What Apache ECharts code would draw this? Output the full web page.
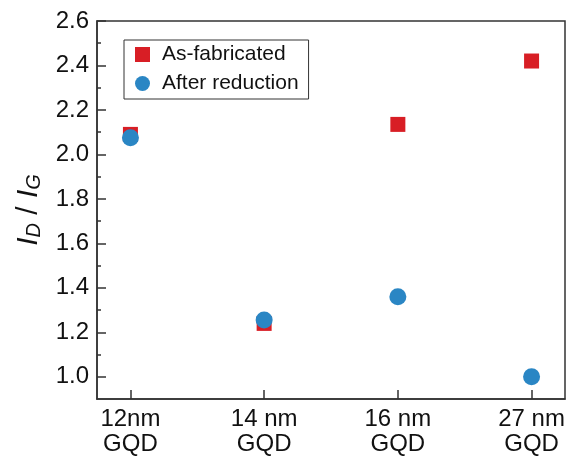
<!DOCTYPE html>
<html>
<head>
<meta charset="utf-8">
<script src="https://cdn.jsdelivr.net/npm/echarts@6/dist/echarts.min.js"></script>
<style>
  html, body { margin: 0; padding: 0; background: #fff; }
  #chart { width: 571px; height: 457px; }
</style>
</head>
<body>
<div id="chart"></div>
<script>
const categories = ['12nm\nGQD', '14 nm\nGQD', '16 nm\nGQD', '27 nm\nGQD'];
const asFabricated = [2.09, 1.24, 2.135, 2.42];
const afterReduction = [2.075, 1.255, 1.36, 1.0];
const yMajorTicks = [1.0, 1.2, 1.4, 1.6, 1.8, 2.0, 2.2, 2.4, 2.6];
const yMinorTicks = [1.1, 1.3, 1.5, 1.7, 1.9, 2.1, 2.3, 2.5];
const xTicks = [0, 1, 2, 3];

const chart = echarts.init(document.getElementById('chart'));

const font = 'Arial, "Liberation Sans", sans-serif';
const axisColor = '#333';

const option = {
  animation: false,
  grid: {
    left: 97, right: 6, top: 21, bottom: 58,
    outerBoundsMode: 'none',
    show: true, borderColor: axisColor, borderWidth: 1.5
  },
  legend: {
    left: 124, top: 40,
    orient: 'vertical',
    borderColor: '#333', borderWidth: 1,
    padding: [4, 10, 5, 11],
    itemWidth: 15, itemHeight: 15, itemGap: 8,
    textStyle: { fontFamily: font, fontSize: 21, color: '#111', padding: [0, 0, 0, 7] },
    data: [
      { name: 'As-fabricated', icon: 'rect' },
      { name: 'After reduction', icon: 'circle' }
    ]
  },
  xAxis: {
    type: 'value',
    min: -0.25, max: 3.25,
    splitLine: { show: false },
    axisLine: { onZero: false, lineStyle: { color: axisColor, width: 1.5 } },
    axisTick: { inside: true, length: 9, customValues: xTicks, lineStyle: { color: axisColor, width: 1.5 } },
    axisLabel: {
      customValues: xTicks,
      margin: 8,
      fontFamily: font, fontSize: 24, color: '#111', lineHeight: 25,
      formatter: v => categories[Math.round(v)]
    }
  },
  yAxis: [{
    type: 'value',
    position: 'left',
    min: 0.9, max: 2.6,
    splitLine: { show: false },
    axisLine: { show: true, onZero: false, lineStyle: { color: axisColor, width: 1.5 } },
    axisTick: { inside: true, length: 9, customValues: yMajorTicks, lineStyle: { color: axisColor, width: 1.5 } },
    axisLabel: {
      customValues: yMajorTicks,
      margin: 8,
      fontFamily: font, fontSize: 24, color: '#111',
      formatter: v => v.toFixed(1)
    },
    name: '{i|I}{s|D}{t| / }{i|I}{s|G}',
    nameLocation: 'middle',
    nameRotate: 90,
    nameGap: 48,
    nameTextStyle: {
      rich: {
        i: { fontFamily: font, fontSize: 30, fontStyle: 'italic', color: '#111' },
        s: { fontFamily: font, fontSize: 20, fontStyle: 'italic', color: '#111', verticalAlign: 'bottom', padding: [13, 0, 0, 0] },
        t: { fontFamily: font, fontSize: 30, color: '#111' }
      }
    }
  }, {
    type: 'value',
    position: 'left',
    min: 0.9, max: 2.6,
    splitLine: { show: false },
    axisLine: { show: false, onZero: false },
    axisTick: { inside: true, length: 4, customValues: yMinorTicks, lineStyle: { color: axisColor, width: 1.5 } },
    axisLabel: { show: false }
  }],
  series: [{
    name: 'As-fabricated',
    type: 'scatter',
    symbol: 'rect',
    symbolSize: 15,
    itemStyle: { color: '#d81e25', opacity: 1 },
    data: asFabricated.map((v, i) => [i, v])
  }, {
    name: 'After reduction',
    type: 'scatter',
    symbol: 'circle',
    symbolSize: 17,
    itemStyle: { color: '#2a86c4', opacity: 1 },
    data: afterReduction.map((v, i) => [i, v])
  }]
};

chart.setOption(option);
</script>
</body>
</html>
